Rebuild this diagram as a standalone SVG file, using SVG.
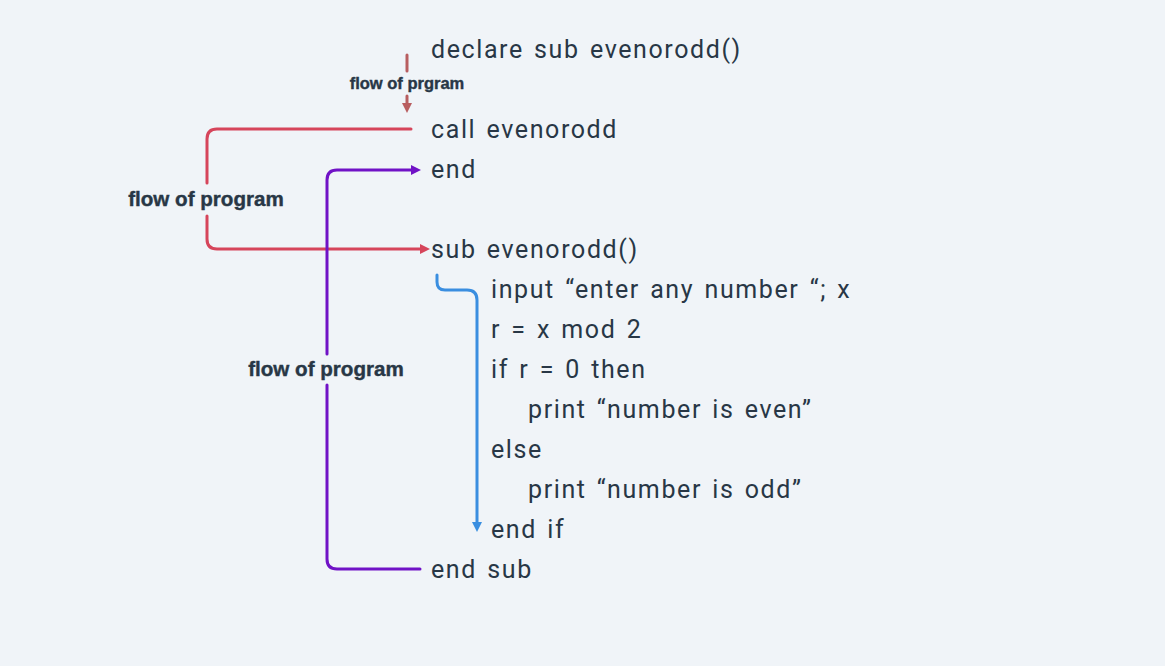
<svg xmlns="http://www.w3.org/2000/svg" width="1165" height="666" viewBox="0 0 1165 666">
<style>
.bg{fill:#f0f4f8}
.code{font-family:Roboto,"Liberation Sans",sans-serif;font-size:25px;letter-spacing:1.6px;word-spacing:2.5px;fill:#283746}
.lbl{font-family:"Liberation Sans",Arial,sans-serif;font-weight:bold;fill:#283746;text-anchor:middle;stroke:#283746;stroke-width:0.4}
.c{fill:none;stroke-width:3;stroke-linecap:round;stroke-linejoin:round}
</style>
<defs>
<marker id="aBrown" viewBox="0 0 10 10" refX="0" refY="5" markerWidth="10" markerHeight="10" markerUnits="userSpaceOnUse" orient="auto"><path d="M0,0 L10,5 L0,10 z" fill="#b85e60"/></marker>
<marker id="aRed" viewBox="0 0 10 10" refX="0" refY="5" markerWidth="10" markerHeight="10" markerUnits="userSpaceOnUse" orient="auto"><path d="M0,0 L10,5 L0,10 z" fill="#d6455b"/></marker>
<marker id="aPurple" viewBox="0 0 10 10" refX="0" refY="5" markerWidth="10" markerHeight="10" markerUnits="userSpaceOnUse" orient="auto"><path d="M0,0 L10,5 L0,10 z" fill="#7012c6"/></marker>
<marker id="aBlue" viewBox="0 0 10 10" refX="0" refY="5" markerWidth="10" markerHeight="10" markerUnits="userSpaceOnUse" orient="auto"><path d="M0,0 L10,5 L0,10 z" fill="#3a8ee0"/></marker>
</defs>
<rect class="bg" x="0" y="0" width="1165" height="666"/>
<g id="connectors">
<path class="c" stroke="#b85e60" d="M407,55 L407,71"/>
<path class="c" stroke="#b85e60" d="M407,96 L407,103" marker-end="url(#aBrown)"/>
<path class="c" stroke="#d6455b" d="M411,129 L217,129 Q207,129 207,139 L207,183"/>
<path class="c" stroke="#d6455b" d="M207,216 L207,239 Q207,249 217,249 L420,249" marker-end="url(#aRed)"/>
<path class="c" stroke="#7012c6" d="M420,569 L337,569 Q327,569 327,559 L327,385"/>
<path class="c" stroke="#7012c6" d="M327,354 L327,180 Q327,170 337,170 L411,170" marker-end="url(#aPurple)"/>
<path class="c" stroke="#3a8ee0" d="M437,275 L437,282 Q437,290 445,290 L467,290 Q477,290 477,300 L477,522" marker-end="url(#aBlue)"/>
</g>
<g id="label-prgram"><text class="lbl" x="407" y="89" font-size="16.5">flow of prgram</text></g>
<g id="label-program-1"><text class="lbl" x="206" y="206" font-size="20.6">flow of program</text></g>
<g id="label-program-2"><text class="lbl" x="326" y="376" font-size="20.6">flow of program</text></g>
<g id="n-declare"><text class="code" x="431" y="58">declare sub evenorodd()</text></g>
<g id="n-call"><text class="code" x="431" y="138">call evenorodd</text></g>
<g id="n-end"><text class="code" x="431" y="178">end</text></g>
<g id="n-sub"><text class="code" x="431" y="258">sub evenorodd()</text></g>
<g id="n-input"><text class="code" x="491" y="298">input “enter any number “; x</text></g>
<g id="n-mod"><text class="code" x="491" y="338">r = x mod 2</text></g>
<g id="n-if"><text class="code" x="491" y="378">if r = 0 then</text></g>
<g id="n-print-even"><text class="code" x="528" y="418">print “number is even”</text></g>
<g id="n-else"><text class="code" x="491" y="458">else</text></g>
<g id="n-print-odd"><text class="code" x="528" y="498">print “number is odd”</text></g>
<g id="n-endif"><text class="code" x="491" y="538">end if</text></g>
<g id="n-endsub"><text class="code" x="431" y="578">end sub</text></g>
</svg>
